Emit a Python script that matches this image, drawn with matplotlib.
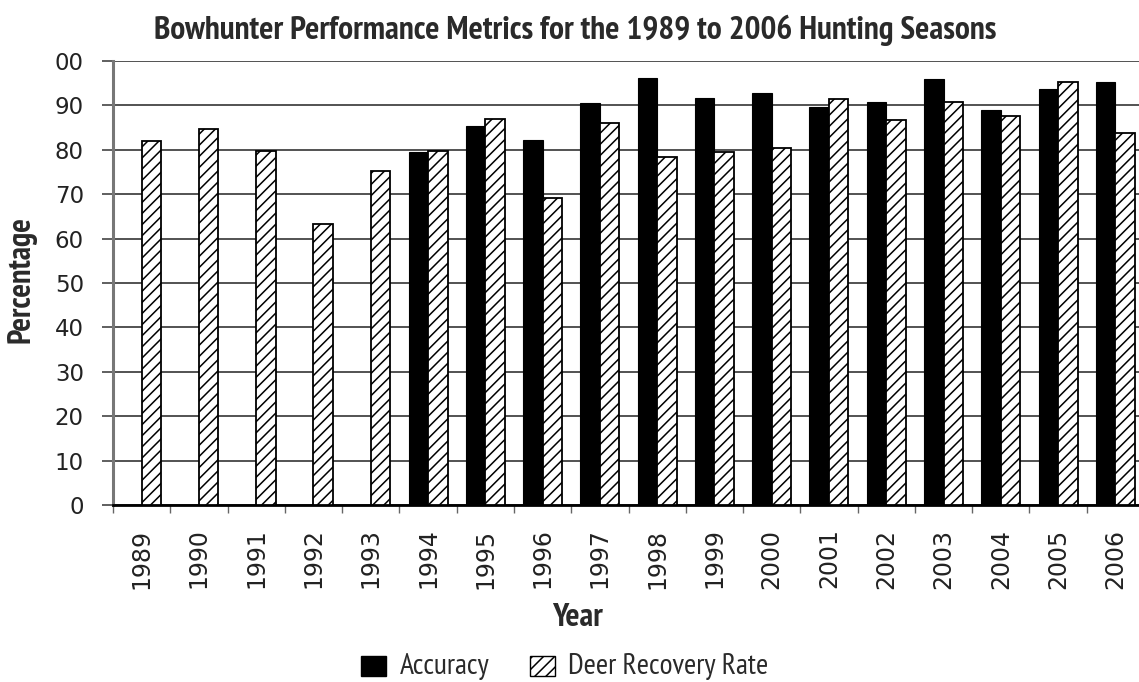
import numpy as np
import matplotlib
matplotlib.use("Agg")
import matplotlib.pyplot as plt
from matplotlib.patches import Patch

# values (percent)
years = ["1989", "1990", "1991", "1992", "1993", "1994", "1995", "1996", "1997",
         "1998", "1999", "2000", "2001", "2002", "2003", "2004", "2005", "2006"]
accuracy = [np.nan, np.nan, np.nan, np.nan, np.nan, 79.4, 85.4, 82.1, 90.6,
            96.1, 91.6, 92.7, 89.6, 90.8, 95.9, 89.0, 93.6, 95.3]
deer_recovery = [82.0, 84.6, 79.7, 63.4, 75.2, 79.7, 86.9, 69.1, 86.0,
                 78.4, 79.6, 80.5, 91.4, 86.7, 90.7, 87.5, 95.3, 83.7]
y_ticks = [0, 10, 20, 30, 40, 50, 60, 70, 80, 90, 100]
y_tick_labels = ["0", "10", "20", "30", "40", "50", "60", "70", "80", "90", "00"]

NARROW = ["PT Sans Narrow", "Roboto Condensed", "Fira Sans Condensed", "DejaVu Sans"]
TXT = "#2a2a2a"
plt.rcParams["hatch.linewidth"] = 1.1

W, H = 1139, 682
fig = plt.figure(figsize=(W / 100, H / 100), dpi=100)
ax = fig.add_axes([113 / W, 177 / H, 1031 / W, 444 / H])

x = np.arange(len(years))
bw = 0.34
ax.bar(x - bw / 2, accuracy, bw, color="black", edgecolor="black", linewidth=0.8,
       zorder=3)
ax.bar(x + bw / 2, deer_recovery, bw, color="white", edgecolor="black",
       hatch="///", linewidth=1.3, zorder=3)

ax.set_xlim(-0.5, len(years) - 0.5)
ax.set_ylim(0, 100)

# category boundaries get the ticks, labels sit in the middle
ax.set_xticks(np.arange(-0.5, len(years)))
ax.set_xticklabels([])
ax.set_xticks(x, minor=True)
ax.set_xticklabels(years, minor=True, rotation=90, fontsize=17,
                   family="DejaVu Sans", color="#222")
ax.tick_params(axis="x", which="major", length=6, width=1, color="#666",
               direction="out")
ax.tick_params(axis="x", which="minor", length=0, pad=17)

ax.set_yticks(y_ticks)
ax.set_yticklabels(y_tick_labels, fontsize=16.5, family="DejaVu Sans", color="#222")
ax.tick_params(axis="y", length=8, width=1.2, color="#444", pad=13)

ax.yaxis.grid(True, color="#444", linewidth=1.3)
ax.set_axisbelow(True)
for side in ("top", "right"):
    ax.spines[side].set_visible(False)
ax.spines["left"].set_color("#777")
ax.spines["left"].set_linewidth(2.2)
ax.spines["bottom"].set_color("black")
ax.spines["bottom"].set_linewidth(2.0)

title = fig.text(575 / W, 1 - 30 / H,
                 "Bowhunter Performance Metrics for the 1989 to 2006 Hunting Seasons",
                 ha="center", va="center", fontsize=19, fontweight="heavy",
                 color=TXT, family=NARROW)
ylab = fig.text(22 / W, 1 - 280 / H, "Percentage", rotation=90, ha="center",
                va="center", fontsize=17, fontweight="heavy", color=TXT,
                family=NARROW)
xlab = fig.text(578 / W, 1 - 618 / H, "Year", ha="center", va="center",
                fontsize=18, fontweight="heavy", color=TXT, family=NARROW)

handles = [Patch(facecolor="black", edgecolor="black", label="Accuracy"),
           Patch(facecolor="white", edgecolor="black", hatch="///",
                 label="Deer Recovery Rate")]
leg = fig.legend(handles=handles, loc="center", bbox_to_anchor=(565 / W, 15 / H),
                 ncol=2, frameon=False, handlelength=1.0, handleheight=0.85,
                 handletextpad=0.55, columnspacing=1.6,
                 prop={"family": NARROW, "size": 18, "weight": "medium"})
for t in leg.get_texts():
    t.set_color(TXT)

# fit text sizes to the pixel extents measured on the reference
renderer = fig.canvas.get_renderer()
for txt, target, use_h in ((title, 840, False), (ylab, 127, True), (xlab, 51, False)):
    ext = txt.get_window_extent(renderer)
    size = ext.height if use_h else ext.width
    txt.set_fontsize(txt.get_fontsize() * target / size)

deer_txt = leg.get_texts()[1]
scale = 201 / deer_txt.get_window_extent(renderer).width
leg.prop.set_size(18 * scale)
for t in leg.get_texts():
    t.set_fontsize(18 * scale)

fig.savefig("out.png", dpi=100)
